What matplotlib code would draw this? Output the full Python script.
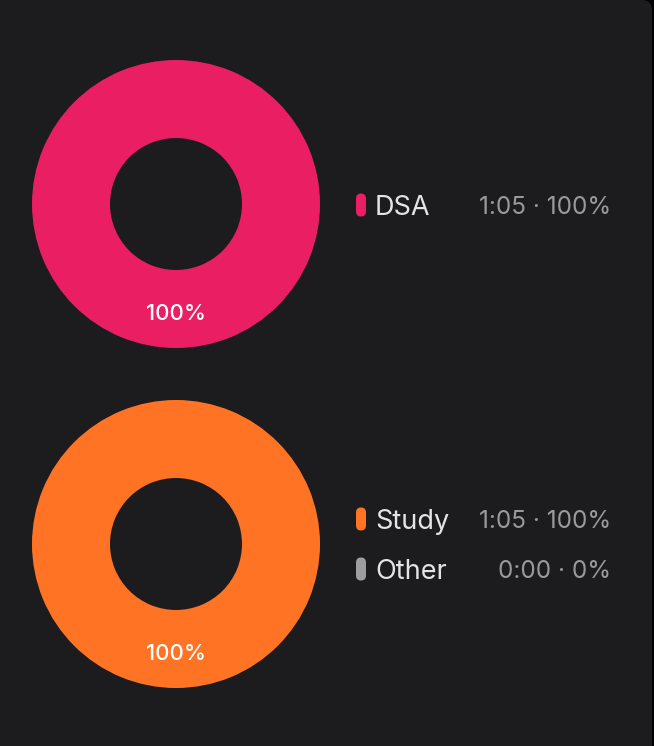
import matplotlib.pyplot as plt
from matplotlib.patches import FancyBboxPatch

# --- data ---
top_labels = ["DSA"]
top_minutes = [65]
top_times = ["1:05"]
top_pcts = [100]

bottom_labels = ["Study", "Other"]
bottom_minutes = [65, 0]
bottom_times = ["1:05", "0:00"]
bottom_pcts = [100, 0]

top_colors = ["#E91E63"]
bottom_colors = ["#FF7424", "#9E9E9E"]

BG = "#1C1C1E"
W, H = 654, 746

plt.rcParams["font.family"] = ["Inter", "DejaVu Sans"]

fig = plt.figure(figsize=(W / 100, H / 100), dpi=100, facecolor="black")

# overlay in pixel coordinates (y down)
base = fig.add_axes([0, 0, 1, 1])
base.set_xlim(0, W)
base.set_ylim(H, 0)
base.axis("off")
base.add_patch(FancyBboxPatch((-30, 0), 682, 790,
                              boxstyle="round,pad=0,rounding_size=10",
                              facecolor=BG, edgecolor="none", zorder=0))

R_OUT, R_IN = 144, 66


def donut(cx, cy, values, colors, pcts):
    size = 2.5 * R_OUT
    ax = fig.add_axes([(cx - size / 2) / W, (H - cy - size / 2) / H, size / W, size / H])
    ax.pie(values, colors=colors, startangle=90, counterclock=False,
           wedgeprops=dict(width=(R_OUT - R_IN) / R_OUT, edgecolor="none"))
    ax.set_xlim(-1.25, 1.25)
    ax.set_ylim(-1.25, 1.25)
    ax.set_aspect("equal")
    # percentage label near the middle of the ring, bottom
    best = max(range(len(pcts)), key=lambda i: pcts[i])
    ax.text(0, -110 / R_OUT, f"{pcts[best]}%", ha="center", va="center",
            color="white", fontsize=16, fontweight="medium")


def legend(x0, y_center, labels, times, pcts, colors, step=50):
    n = len(labels)
    ys = [y_center + (i - (n - 1) / 2) * step for i in range(n)]
    for y, lab, t, p, c in zip(ys, labels, times, pcts, colors):
        base.add_patch(FancyBboxPatch((x0, y - 11.5), 10, 23,
                                      boxstyle="round,pad=0,rounding_size=5",
                                      facecolor=c, edgecolor="none", zorder=2))
        base.text(x0 + 19, y, lab, ha="left", va="center_baseline",
                  color="#E4E4E4", fontsize=19.5, zorder=3)
        base.text(611, y, f"{t} \u00b7 {p}%", ha="right", va="center_baseline",
                  color="#9A9A9A", fontsize=17.5, zorder=3)


donut(176, 204, top_minutes, top_colors, top_pcts)
donut(176, 544, bottom_minutes, bottom_colors, bottom_pcts)

legend(356, 205, top_labels, top_times, top_pcts, top_colors)
legend(356, 544, bottom_labels, bottom_times, bottom_pcts, bottom_colors)

fig.savefig("out.png", dpi=100, facecolor="black")
